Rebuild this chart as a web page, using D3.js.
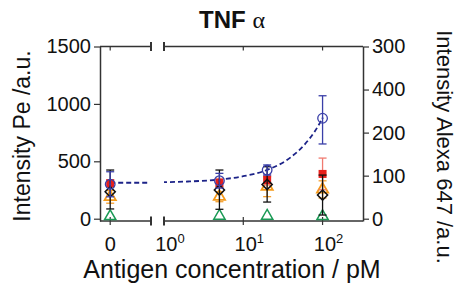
<!DOCTYPE html>
<html>
<head>
<meta charset="utf-8">
<script src="https://cdn.jsdelivr.net/npm/d3@7"></script>
<style>
  body { margin: 0; background: #fff; }
  svg { display: block; font-family: "Liberation Sans", Arial, sans-serif; }
</style>
</head>
<body>
<script>
// concentrations (pM); 0 sits on the broken left segment
const conc = [0, 5, 20, 100];

// values in Pe intensity units (left axis)
const blueVal = [300, 331, 424, 875];
const blueLo  = [191, 267, 380, 651];
const blueHi  = [409, 395, 468, 1071];

const redVal = [308, 311, 337, 390];
const redLo  = [276, 272, 294, 252];
const redHi  = [340, 350, 380, 528];

const blackVal = [235, 250, 298, 206];
const blackLo  = [85, 82, 145, 32];
const blackHi  = [424, 424, 453, 380];

const orangeVal = [190, 192, 279, 255];
const orangeLo  = [135, 148, 192, 180];
const orangeHi  = [245, 236, 366, 330];

const greenVal = [12, 15, 15, 12];

// dashed fit through the circles
const fitX = [1, 2, 5, 10, 20, 40, 60, 80, 100];
const fitY = [318, 324, 341, 370, 425, 537, 650, 762, 875];
const fitZero = 313;

const leftTicks = [0, 500, 1000, 1500];
const rightTicks = [0, 100, 200, 300, 400];
const rightTickLabels = ["0", "100", "200", "400", "300"];

const W = 463, H = 286;
const m = {left: 100, right: 363, top: 46.5, bottom: 221};
const brkA = 151, brkB = 164;
const tickFont = 20;

const svg = d3.select("body").append("svg").attr("width", W).attr("height", H);

const xLin = d3.scaleLinear().domain([-1, 4]).range([m.left, brkA]);
const xLog = d3.scaleLog().domain([1, Math.pow(10, 2.51)]).range([brkB, m.right]);
const xPos = c => c === 0 ? xLin(0) : xLog(c);
const y = d3.scaleLinear().domain([-20, 1500]).range([m.bottom, m.top]);
const yR = d3.scaleLinear().domain([-20 * 400 / 1500, 400]).range([m.bottom, m.top]);

const axisColor = "#333";

// frame lines
const frame = svg.append("g").attr("stroke", axisColor).attr("stroke-width", 1.5).attr("fill", "none");
[m.top, m.bottom].forEach(yy => {
  frame.append("line").attr("x1", m.left).attr("x2", brkA).attr("y1", yy).attr("y2", yy);
  frame.append("line").attr("x1", brkB).attr("x2", m.right).attr("y1", yy).attr("y2", yy);
  [brkA, brkB].forEach(xx => frame.append("line")
    .attr("x1", xx).attr("x2", xx).attr("y1", yy - 4.5).attr("y2", yy + 4.5).attr("stroke-width", 2));
});

// left axis
svg.append("g")
    .attr("transform", `translate(${m.left},0)`)
    .call(d3.axisLeft(y).tickValues(leftTicks).tickSize(6).tickSizeOuter(0).tickPadding(3)
      .tickFormat(d3.format("d")))
    .call(g => g.select(".domain").attr("stroke", axisColor).attr("stroke-width", 1.5))
    .call(g => g.selectAll(".tick line").attr("stroke", axisColor).attr("stroke-width", 1.2))
    .call(g => g.selectAll("text").attr("font-size", tickFont).attr("fill", "#111")
      .attr("font-family", "'Liberation Sans', Arial, sans-serif"));

// right axis (labels as printed)
svg.append("g")
    .attr("transform", `translate(${m.right},0)`)
    .call(d3.axisRight(yR).tickValues(rightTicks).tickSize(6).tickSizeOuter(0).tickPadding(3)
      .tickFormat((d, i) => rightTickLabels[i]))
    .call(g => g.select(".domain").attr("stroke", axisColor).attr("stroke-width", 1.5))
    .call(g => g.selectAll(".tick line").attr("stroke", axisColor).attr("stroke-width", 1.2))
    .call(g => g.selectAll("text").attr("font-size", tickFont).attr("fill", "#111")
      .attr("font-family", "'Liberation Sans', Arial, sans-serif"));

// x ticks (bottom crosses both ways, top inward)
const xTicks = [xLin(0), xLog(10), xLog(100)];
xTicks.forEach(xx => {
  frame.append("line").attr("x1", xx).attr("x2", xx).attr("y1", m.bottom - 4).attr("y2", m.bottom + 4).attr("stroke-width", 1.2);
  frame.append("line").attr("x1", xx).attr("x2", xx).attr("y1", m.top).attr("y2", m.top + 4).attr("stroke-width", 1.2);
});

// x tick labels
const xl = svg.append("g").attr("font-size", tickFont).attr("fill", "#111").attr("text-anchor", "middle");
xl.append("text").attr("x", xLin(0)).attr("y", 251).text("0");
[0, 1, 2].forEach(e => {
  const t = xl.append("text").attr("x", xLog(Math.pow(10, e)) + 6).attr("y", 251);
  t.append("tspan").text("10");
  t.append("tspan").attr("font-size", 13).attr("dy", -8).text(e);
});

// fit line
const fitStyle = p => p.attr("fill", "none").attr("stroke", "#1c2388").attr("stroke-width", 1.8)
  .attr("stroke-dasharray", "5,3");
svg.append("path").call(fitStyle)
  .attr("d", d3.line()([[xLin(0), y(fitZero)], [brkA - 1, y(fitZero)]]));
svg.append("path").call(fitStyle)
  .attr("stroke-dashoffset", -6)
  .attr("d", d3.line().curve(d3.curveMonotoneX)(fitX.map((c, i) => [xLog(c), y(fitY[i])])));

// error bars
function errBars(lo, hi, color, width) {
  const g = svg.append("g").attr("stroke", color).attr("stroke-width", width || 1.3).attr("fill", "none");
  conc.forEach((c, i) => {
    const xx = xPos(c);
    g.append("line").attr("x1", xx).attr("x2", xx).attr("y1", y(lo[i])).attr("y2", y(hi[i]));
    [lo[i], hi[i]].forEach(v => g.append("line")
      .attr("x1", xx - 4).attr("x2", xx + 4).attr("y1", y(v)).attr("y2", y(v)));
  });
}

const tri = d3.symbol().type(d3.symbolTriangle).size(55);

// green triangles
svg.append("g").selectAll("path").data(greenVal).join("path")
    .attr("d", tri)
    .attr("transform", (d, i) => `translate(${xPos(conc[i])},${y(d) - 1})`)
    .attr("fill", "none").attr("stroke", "#1a9a55").attr("stroke-width", 1.5);

// orange
errBars(orangeLo, orangeHi, "#f5a030");
svg.append("g").selectAll("path").data(orangeVal).join("path")
    .attr("d", tri)
    .attr("transform", (d, i) => `translate(${xPos(conc[i])},${y(d)})`)
    .attr("fill", "none").attr("stroke", "#f59a1a").attr("stroke-width", 1.8);

// red squares
errBars(redLo, redHi, "#f07a70");
svg.append("g").selectAll("rect").data(redVal).join("rect")
    .attr("x", (d, i) => xPos(conc[i]) - 4).attr("y", d => y(d) - 4)
    .attr("width", 8).attr("height", 8)
    .attr("fill", "#e8201c");

// black diamonds
errBars(blackLo, blackHi, "#111");
svg.append("g").selectAll("rect").data(blackVal).join("rect")
    .attr("x", -3.6).attr("y", -3.6).attr("width", 7.2).attr("height", 7.2)
    .attr("transform", (d, i) => `translate(${xPos(conc[i])},${y(d)}) rotate(45)`)
    .attr("fill", "none").attr("stroke", "#111").attr("stroke-width", 1.5);

// blue circles
errBars(blueLo, blueHi, "#3a3fa8");
const bc = svg.append("g");
bc.selectAll("circle.o").data(blueVal).join("circle").attr("class", "o")
    .attr("cx", (d, i) => xPos(conc[i])).attr("cy", d => y(d)).attr("r", 4.8)
    .attr("fill", "none").attr("stroke", "#3a3fa8").attr("stroke-width", 1.3);
bc.selectAll("circle.i").data(blueVal).join("circle").attr("class", "i")
    .attr("cx", (d, i) => xPos(conc[i])).attr("cy", d => y(d)).attr("r", 1)
    .attr("fill", "#3a3fa8");

// titles
const title = svg.append("text").attr("x", 232).attr("y", 28).attr("text-anchor", "middle")
    .attr("font-size", 24).attr("fill", "#111");
title.append("tspan").attr("font-weight", "bold").text("TNF ");
title.append("tspan").attr("font-family", "'Liberation Serif', 'DejaVu Serif', serif").text("α");

svg.append("text").attr("transform", "translate(30,136) rotate(-90)")
    .attr("text-anchor", "middle").attr("font-size", 23).attr("fill", "#111")
    .text("Intensity Pe /a.u.");

svg.append("text").attr("transform", "translate(437,147) rotate(90)")
    .attr("text-anchor", "middle").attr("font-size", 22).attr("fill", "#111")
    .text("Intensity Alexa 647 /a.u.");

svg.append("text").attr("x", 232).attr("y", 278).attr("text-anchor", "middle")
    .attr("font-size", 25).attr("fill", "#111")
    .text("Antigen concentration / pM");
</script>
</body>
</html>
